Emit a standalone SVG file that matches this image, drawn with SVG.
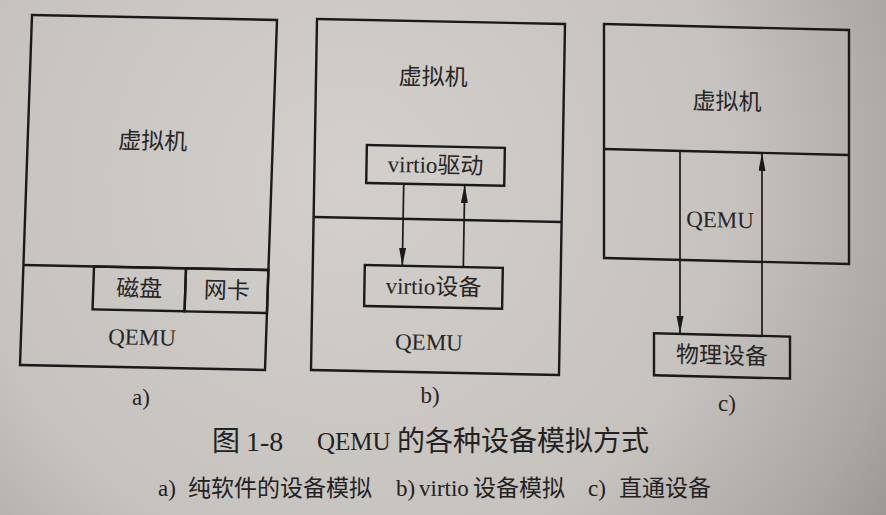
<svg xmlns="http://www.w3.org/2000/svg" width="886" height="515" viewBox="0 0 886 515">
<defs>
<radialGradient id="paper" cx="350" cy="180" r="700" gradientUnits="userSpaceOnUse">
<stop offset="0" stop-color="#d3cfcb"/>
<stop offset="0.55" stop-color="#c6c2be"/>
<stop offset="0.8" stop-color="#aca7a2"/>
<stop offset="1" stop-color="#8e8985"/>
</radialGradient>
<marker id="ah" markerUnits="userSpaceOnUse" markerWidth="20" markerHeight="8" refX="18" refY="3.5" orient="auto">
<path d="M0,0 L18,3.5 L0,7 Z" fill="#1a1a1a"/>
</marker>
<style>
.box{fill:none;stroke:#1a1a1a;stroke-width:2.4}
.ln{stroke:#1a1a1a;stroke-width:2.4;fill:none}
.con{stroke:#1a1a1a;stroke-width:1.7;fill:none;marker-end:url(#ah)}
.t{font-family:"Liberation Serif","Noto Sans CJK SC",serif;font-size:23px;fill:#262626;text-anchor:middle;dominant-baseline:central}
.cap{font-family:"Liberation Serif","Noto Sans CJK SC",serif;font-size:28px;fill:#222}
.sub{font-family:"Liberation Serif","Noto Sans CJK SC",serif;font-size:23px;fill:#222}
</style>
</defs>
<rect x="0" y="0" width="886" height="515" fill="url(#paper)"/>

<!-- Figure a -->
<g id="fig-a" transform="matrix(1,0.0204,-0.0343,1,32,15)">
<g id="a-vm">
<rect class="box" x="0" y="0" width="245" height="350"/>
<text class="t" x="125" y="124">虚拟机</text>
</g>
<g id="a-qemu">
<line class="ln" x1="0" y1="250" x2="245" y2="250"/>
<text class="t" x="121" y="320">QEMU</text>
</g>
<g id="a-disk">
<rect class="box" x="70.6" y="250" width="92" height="43"/>
<text class="t" x="116.6" y="271.5">磁盘</text>
</g>
<g id="a-nic">
<rect class="box" x="162.6" y="250" width="82.4" height="43"/>
<text class="t" x="204" y="271.5">网卡</text>
</g>
</g>

<!-- Figure b -->
<g id="fig-b" transform="matrix(1,0.02016,-0.0171,1,317,19)">
<g id="b-vm">
<rect class="box" x="0" y="0" width="248" height="351"/>
<text class="t" x="117" y="56">虚拟机</text>
</g>
<g id="b-qemu">
<line class="ln" x1="0" y1="198" x2="248" y2="198"/>
<text class="t" x="117.5" y="321">QEMU</text>
</g>
<g id="b-driver">
<rect class="box" x="52" y="125" width="138" height="38"/>
<text class="t" x="121" y="144">virtio驱动</text>
</g>
<g id="b-device">
<rect class="box" x="52" y="245" width="138" height="41"/>
<text class="t" x="121" y="265.5">virtio设备</text>
</g>
</g>

<!-- Figure c -->
<g id="fig-c" transform="matrix(1,0.0246,0,1,604,24)">
<g id="c-vm">
<rect class="box" x="0" y="0" width="245" height="234"/>
<text class="t" x="123" y="75">虚拟机</text>
</g>
<g id="c-qemu">
<line class="ln" x1="0" y1="125" x2="245" y2="125"/>
<text class="t" x="116" y="193">QEMU</text>
</g>
<g id="c-phys">
<rect class="box" x="50" y="308" width="136" height="42"/>
<text class="t" x="118" y="329">物理设备</text>
</g>
</g>

<!-- Connectors -->
<g id="connectors">
<g transform="matrix(1,0.02016,-0.0171,1,317,19)">
<line class="con" x1="89.5" y1="163" x2="89.5" y2="245"/>
<line class="con" x1="150.5" y1="245" x2="150.5" y2="163"/>
</g>
<g transform="matrix(1,0.0246,0,1,604,24)">
<line class="con" x1="76" y1="125" x2="76" y2="308"/>
<line class="con" x1="158" y1="308" x2="158" y2="125"/>
</g>
</g>

<!-- Sub-figure labels -->
<text class="t" x="141" y="397">a)</text>
<text class="t" x="430" y="395">b)</text>
<text class="t" x="727" y="403">c)</text>

<!-- Caption -->
<text class="cap" y="441" dominant-baseline="central"><tspan x="212">图</tspan><tspan x="246">1-8</tspan><tspan x="317" font-size="25">QEMU</tspan><tspan x="397">的各种设备模拟方式</tspan></text>
<text class="sub" y="488" dominant-baseline="central"><tspan x="158">a)</tspan><tspan x="188">纯软件的设备模拟</tspan><tspan x="396">b)</tspan><tspan x="419">virtio</tspan><tspan x="473">设备模拟</tspan><tspan x="588">c)</tspan><tspan x="619">直通设备</tspan></text>
</svg>
